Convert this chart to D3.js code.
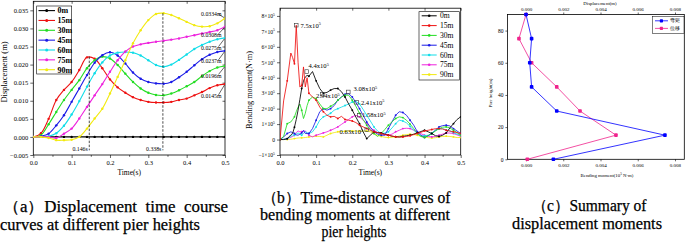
<!DOCTYPE html>
<html><head><meta charset="utf-8">
<script src="https://cdn.jsdelivr.net/npm/d3@7"></script>
<style>
body{margin:0;background:#fff}
svg{display:block}
text{font-family:"Liberation Serif","Times New Roman",serif;fill:#000}
</style>
</head><body>
<svg id="chart" width="685" height="245"></svg>
<script>
// ---------------- DATA ----------------
const seriesNames = ["0m","15m","30m","45m","60m","75m","90m"];

// (a) displacement time course (m)
const timeA = [0,0.02,0.04,0.06,0.08,0.10,0.12,0.14,0.16,0.18,0.20,0.22,0.24,0.26,0.28,0.30,0.32,0.34,0.36,0.38,0.40,0.42,0.44,0.46,0.48,0.50];
const disp0m  = [0,0,0,0,0,0,0,0,0,0,0,0,0,0,0,0,0,0,0,0,0,0,0,0,0,0];
const disp15m = [0,0.0010,0.0050,0.0102,0.0130,0.0152,0.0185,0.0220,0.0216,0.0190,0.0159,0.0137,0.0122,0.0110,0.0102,0.0097,0.0095,0.0095,0.0097,0.0102,0.0106,0.0115,0.0124,0.0135,0.0143,0.0146];
const disp30m = [0,0.0005,0.0035,0.0069,0.0102,0.0130,0.0157,0.0190,0.0212,0.0222,0.0217,0.0199,0.0175,0.0152,0.0134,0.0122,0.0116,0.0115,0.0120,0.0129,0.0140,0.0152,0.0168,0.0182,0.0192,0.0196];
const disp45m = [0,0.0002,0.0009,0.0032,0.0060,0.0097,0.0134,0.0171,0.0205,0.0226,0.0234,0.0225,0.0203,0.0178,0.0161,0.0152,0.0148,0.0147,0.0152,0.0165,0.0180,0.0198,0.0215,0.0227,0.0235,0.0238];
const disp60m = [0,0,0.0002,0.0010,0.0031,0.0062,0.0099,0.0139,0.0176,0.0206,0.0225,0.0233,0.0235,0.0233,0.0225,0.0212,0.0199,0.0194,0.0200,0.0213,0.0228,0.0243,0.0254,0.0263,0.0270,0.0274];
const disp75m = [0,0,0,-0.0003,0.0009,0.0023,0.0051,0.0083,0.0115,0.0146,0.0180,0.0212,0.0236,0.0250,0.0256,0.0260,0.0263,0.0266,0.0269,0.0272,0.0277,0.0281,0.0286,0.0290,0.0295,0.0305];
const disp90m = [0,0,-0.0003,-0.0009,-0.0009,-0.0008,0,0.0023,0.0051,0.0078,0.0120,0.0166,0.0212,0.0259,0.0295,0.0323,0.0340,0.0342,0.0337,0.0328,0.0318,0.0309,0.0305,0.0306,0.0314,0.0328];
const dispTicksY = [-0.005,0,0.005,0.010,0.015,0.020,0.025,0.030,0.035];
const timeTicks = [0,0.1,0.2,0.3,0.4,0.5];
const eventTimes = [0.146,0.338];
const eventPeaks = [0.0222,0.0342];
const eventLabels = ["0.146s","0.338s"];
const endLabels = ["0.0334m","0.0308m","0.0275m","0.0237m","0.0196m","0.0145m"];
const endValues = [0.0328,0.0305,0.0274,0.0238,0.0196,0.0146];

// (b) bending moment time course (x10^5 N·m)
const timeB = [0,0.01,0.02,0.03,0.035,0.04,0.045,0.05,0.055,0.06,0.065,0.07,0.075,0.08,0.09,0.10,0.11,0.12,0.13,0.14,0.15,0.16,0.17,0.18,0.19,0.20,0.21,0.22,0.23,0.24,0.25,0.26,0.27,0.28,0.29,0.30,0.31,0.32,0.33,0.34,0.35,0.36,0.37,0.38,0.39,0.40,0.41,0.42,0.43,0.44,0.45,0.46,0.47,0.48,0.49,0.50];
const mom0m  = [0,0,0.05,0.3,0.4,0.8,1.3,1.9,2.6,3.3,3.8,4.05,4.15,4.1,4.4,3.8,3.3,3.0,3.05,3.2,3.3,3.3,3.1,2.75,2.3,1.9,1.45,1.03,0.5,0.06,0.28,0.5,0.45,0.43,0.35,0.28,0.22,0.18,0.17,0.2,0.25,0.28,0.35,0.43,0.52,0.6,0.5,0.39,0.25,0.2,0.28,0.43,0.75,1.03,1.3,1.47];
const mom15m = [0,2.5,3.8,5.6,5.3,4.9,7.4,5.0,3.4,3.5,4.7,3.4,4.0,3.0,2.75,2.55,2.1,1.8,1.57,1.47,1.5,1.36,1.5,1.3,1.25,1.2,1.1,0.93,0.82,0.71,0.6,0.5,0.45,0.39,0.33,0.28,0.22,0.18,0.15,0.17,0.2,0.25,0.32,0.39,0.47,0.56,0.6,0.65,0.7,0.71,0.68,0.6,0.55,0.5,0.45,0.39];
const mom30m = [0,0.2,1.03,1.14,1.3,1.47,1.8,2.1,2.3,1.9,1.36,1.7,2.2,2.55,2.75,2.65,2.3,2.0,2.0,2.15,2.3,2.55,2.75,2.87,2.87,2.55,2.15,1.7,1.3,0.93,0.65,0.39,0.2,0.39,0.65,0.93,1.15,1.36,1.47,1.42,1.25,1.0,0.71,0.4,0.2,0.13,0.25,0.39,0.55,0.71,0.8,0.82,0.75,0.6,0.45,0.28];
const mom45m = [0,0.17,0.39,0.5,0.45,0.39,0.3,0.28,0.35,0.43,0.6,0.39,0.39,0.39,0.71,1.25,1.8,2.0,1.9,2.0,2.2,2.55,2.75,2.93,2.97,2.75,2.4,2.0,1.57,1.14,0.8,0.5,0.35,0.28,0.28,0.71,1.15,1.57,1.8,1.75,1.57,1.25,0.93,0.5,0.28,0.13,0.25,0.39,0.6,0.82,0.9,0.93,0.88,0.71,0.55,0.39];
const mom60m = [0,0.02,0.06,0.2,0.3,0.28,0.35,0.43,0.35,0.28,0.4,0.5,0.45,0.39,0.5,0.82,1.25,1.47,1.57,1.7,1.9,2.0,2.1,2.2,2.3,2.43,2.47,2.3,1.95,1.57,1.2,0.82,0.55,0.39,0.42,0.5,0.75,1.03,1.25,1.2,1.08,0.85,0.6,0.39,0.22,0.25,0.28,0.4,0.6,0.68,0.71,0.62,0.56,0.45,0.35,0.28];
const mom75m = [0,0.01,0.06,0.15,0.2,0.28,0.45,0.56,0.5,0.5,0.52,0.56,0.4,0.28,0.17,0.28,0.35,0.43,0.5,0.6,0.7,0.82,0.98,1.14,1.3,1.47,1.57,1.47,1.25,1.03,0.75,0.6,0.45,0.35,0.3,0.28,0.35,0.5,0.6,0.71,0.73,0.71,0.6,0.5,0.38,0.28,0.2,0.17,0.2,0.28,0.35,0.43,0.42,0.39,0.3,0.22];
const mom90m = [0,0,0,0.02,0.04,0.06,0.08,0.1,0.11,0.11,0.12,0.13,0.15,0.17,0.2,0.22,0.2,0.17,0.28,0.39,0.45,0.5,0.52,0.54,0.55,0.56,0.55,0.54,0.55,0.56,0.5,0.39,0.28,0.2,0.15,0.13,0.15,0.17,0.22,0.28,0.32,0.35,0.32,0.28,0.2,0.17,0.12,0.1,0.12,0.17,0.2,0.22,0.2,0.17,0.13,0.13];
const momTicksY = [-1,0,1,2,3,4,5,6,7,8];
const peakTimes  = [0.045,0.074,0.117,0.189,0.212,0.219,0.24];
const peakValues = [7.4,4.4,2.94,3.08,2.41,1.58,0.63];
const peakLabels = ["7.5","4.4","2.94","3.08","2.41","1.58","0.63"];

// (c) summary
const pierHeights = [0,15,30,45,60,75,90];
const momentSummary = [0.00147,0.00746,0.00165,0.0003,0.0002,0.0003,0.0];
const dispSummary   = [0.00007,0.00483,0.0029,0.00165,0.0003,-0.00038,0.0];
const summaryNames = ["弯矩","位移"];
const summaryTicksX = [0,0.002,0.004,0.006,0.008];
const summaryTicksY = [0,20,40,60,80];

// ---------------- STYLE / LAYOUT ----------------
const colors = ["#000000","#ee1111","#22dd22","#1a1ae6","#11dde8","#ee22dd","#f2ea10"];
const summaryColors = ["#0000ff","#f0238c"];
const endLabelDy = [-4.6,8.8,10.3,10.5,9.9,12.2];
const peakLabelOffsets = [[2.5,0],[0,-5.5],[-8,2],[3.5,-3],[2.5,0],[1,0],[-29,2]];
const captions = [
  {lines:["（a）Displacement  time  course","curves at different pier heights"], x:[3,0], y:[211.7,230], w:[225,200], anchor:"start"},
  {lines:["（b）Time-distance curves of","bending moments at different","pier heights"], x:[356,355,354], y:[202.5,219.5,236.5], w:[189,190,65], anchor:"middle"},
  {lines:["（c）Summary of","displacement moments"], x:[589,587], y:[210.7,229], w:[115,150], anchor:"middle"}
];

const svg = d3.select("#chart");
svg.append("rect").attr("width",685).attr("height",245).attr("fill","#fff");

function styleAxis(g, fs){
  g.select(".domain").remove();
  g.selectAll(".tick line").attr("stroke","#000").attr("stroke-width",0.6);
  g.selectAll(".tick text").attr("font-size",fs).attr("fill","#000").attr("font-family","Liberation Serif");
}
function frame(g,x,y){
  g.append("rect").attr("x",x.range()[0]).attr("y",y.range()[1])
    .attr("width",x.range()[1]-x.range()[0]).attr("height",y.range()[0]-y.range()[1])
    .attr("fill","none").attr("stroke","#000").attr("stroke-width",0.8);
}

// ================= PANEL A =================
(function(){
  const x = d3.scaleLinear().domain([0,0.5]).range([33.3,225]);
  const y = d3.scaleLinear().domain([-0.005,0.0375]).range([155,1.3]);
  const g = svg.append("g");
  svg.append("clipPath").attr("id","clipA").append("rect")
    .attr("x",x.range()[0]).attr("y",y.range()[1]).attr("width",x.range()[1]-x.range()[0]).attr("height",y.range()[0]-y.range()[1]);

  const ax = g.append("g").attr("transform",`translate(0,${y.range()[0]})`)
    .call(d3.axisBottom(x).tickValues(timeTicks).tickFormat(d3.format(".1f")).tickSize(3).tickPadding(2));
  styleAxis(ax,6.5);
  const axm = g.append("g").attr("transform",`translate(0,${y.range()[0]})`)
    .call(d3.axisBottom(x).tickValues([0.05,0.15,0.25,0.35,0.45]).tickFormat("").tickSize(1.8));
  styleAxis(axm,6);
  const axt = g.append("g").attr("transform",`translate(0,${y.range()[1]})`)
    .call(d3.axisBottom(x).tickValues(timeTicks).tickFormat("").tickSize(2.5));
  styleAxis(axt,6);
  const ay = g.append("g").attr("transform",`translate(${x.range()[0]},0)`)
    .call(d3.axisLeft(y).tickValues(dispTicksY).tickFormat(d3.format(".3f")).tickSize(3).tickPadding(2));
  styleAxis(ay,6.5);
  const ayr = g.append("g").attr("transform",`translate(${x.range()[1]},0)`)
    .call(d3.axisLeft(y).tickValues(dispTicksY).tickFormat("").tickSize(2.5));
  styleAxis(ayr,6);
  frame(g,x,y);

  g.append("text").attr("x",(x.range()[0]+x.range()[1])/2).attr("y",174.5).attr("text-anchor","middle").attr("font-size",7.5).text("Time(s)");
  g.append("text").attr("transform","translate(7,72) rotate(-90)").attr("text-anchor","middle").attr("font-size",8.5).text("Displacement (m)");

  const data = [disp0m,disp15m,disp30m,disp45m,disp60m,disp75m,disp90m];
  const line = d3.line().x((d,i)=>x(timeA[i])).y(d=>y(d)).curve(d3.curveCatmullRom.alpha(0.5));
  const pg = g.append("g").attr("clip-path","url(#clipA)");
  data.forEach((s,k)=>{
    pg.append("path").attr("d",line(s)).attr("fill","none").attr("stroke",colors[k]).attr("stroke-width",1.1);
    pg.selectAll(null).data(s).enter().append("circle")
      .attr("cx",(d,i)=>x(timeA[i])).attr("cy",d=>y(d)).attr("r",1.2).attr("fill",colors[k]);
  });

  // dashed event lines
  eventTimes.forEach((t,i)=>{
    g.append("line").attr("x1",x(t)).attr("x2",x(t)).attr("y1",y(eventPeaks[i])).attr("y2",y(-0.0037))
      .attr("stroke","#000").attr("stroke-width",0.7).attr("stroke-dasharray","2.5,1.5");
    g.append("text").attr("x",x(t)-1.5).attr("y",y(-0.0032)).attr("dy","0.35em").attr("text-anchor","end").attr("font-size",5.8).text(eventLabels[i]);
  });

  // end labels with arrows
  endLabels.forEach((lab,i)=>{
    const ey = y(endValues[i]);
    const ly = ey + endLabelDy[i];
    g.append("text").attr("x",x.range()[1]-3.5).attr("y",ly).attr("dy","0.35em").attr("text-anchor","end").attr("font-size",5.8).text(lab);
    const x0 = x.range()[1]-3.5, y0 = ly + (endLabelDy[i]<0?0.5:-1.5);
    g.append("line").attr("x1",x0-3).attr("y1",y0).attr("x2",x.range()[1]-0.6).attr("y2",ey+(endLabelDy[i]<0?-0.5:1))
      .attr("stroke","#000").attr("stroke-width",0.6);
  });

  // legend
  const lg = g.append("g");
  lg.append("rect").attr("x",36.7).attr("y",6).attr("width",35).attr("height",68).attr("fill","#fff").attr("stroke","#000").attr("stroke-width",0.6);
  seriesNames.forEach((n,i)=>{
    const yy = 10.6 + i*9.85;
    lg.append("line").attr("x1",38.5).attr("x2",55).attr("y1",yy).attr("y2",yy).attr("stroke",colors[i]).attr("stroke-width",1.1);
    lg.append("circle").attr("cx",46.7).attr("cy",yy).attr("r",1.5).attr("fill",colors[i]);
    lg.append("text").attr("x",57.5).attr("y",yy).attr("dy","0.35em").attr("font-size",8).attr("font-weight","bold").text(n);
  });
})();

// ================= PANEL B =================
(function(){
  const x = d3.scaleLinear().domain([0,0.5]).range([280,460.7]);
  const y = d3.scaleLinear().domain([-1,8.5]).range([155,8.2]);
  const g = svg.append("g");
  svg.append("clipPath").attr("id","clipB").append("rect")
    .attr("x",x.range()[0]).attr("y",y.range()[1]).attr("width",x.range()[1]-x.range()[0]).attr("height",y.range()[0]-y.range()[1]);

  const ax = g.append("g").attr("transform",`translate(0,${y.range()[0]})`)
    .call(d3.axisBottom(x).tickValues(timeTicks).tickFormat(d3.format(".1f")).tickSize(3).tickPadding(2));
  styleAxis(ax,6.5);
  const axm = g.append("g").attr("transform",`translate(0,${y.range()[0]})`)
    .call(d3.axisBottom(x).tickValues([0.05,0.15,0.25,0.35,0.45]).tickFormat("").tickSize(1.8));
  styleAxis(axm,6);
  const axt = g.append("g").attr("transform",`translate(0,${y.range()[1]})`)
    .call(d3.axisBottom(x).tickValues(timeTicks).tickFormat("").tickSize(2.5));
  styleAxis(axt,6);
  const ay = g.append("g").attr("transform",`translate(${x.range()[0]},0)`)
    .call(d3.axisLeft(y).tickValues(momTicksY).tickSize(3).tickPadding(2));
  styleAxis(ay,5.6);
  ay.selectAll(".tick text").each(function(d){
    const t = d3.select(this); t.text(null);
    if(d===0){ t.text("0"); return; }
    t.append("tspan").text((d<0?"−":"")+Math.abs(d)+"×10");
    t.append("tspan").attr("dy",-2.2).attr("font-size",3.8).text("5");
  });
  frame(g,x,y);

  g.append("text").attr("x",(x.range()[0]+x.range()[1])/2).attr("y",174.5).attr("text-anchor","middle").attr("font-size",7.5).text("Time(s)");
  g.append("text").attr("transform","translate(252,90) rotate(-90)").attr("text-anchor","middle").attr("font-size",8.3).text("Bending moment(N·m)");

  const data = [mom0m,mom15m,mom30m,mom45m,mom60m,mom75m,mom90m];
  const line = d3.line().x((d,i)=>x(timeB[i])).y(d=>y(d));
  const pg = g.append("g").attr("clip-path","url(#clipB)");
  const drawOrder = [6,5,4,3,2,0,1];
  drawOrder.forEach(k=>{
    const s = data[k];
    pg.append("path").attr("d",line(s)).attr("fill","none").attr("stroke",colors[k]).attr("stroke-width",0.85);
    pg.selectAll(null).data(s.map((v,i)=>[timeB[i],v]).filter(d=>Math.abs(Math.round(d[0]*100)-d[0]*100)<1e-6 && Math.round(d[0]*100)%2===0))
      .enter().append("circle").attr("cx",d=>x(d[0])).attr("cy",d=>y(d[1])).attr("r",0.95).attr("fill",colors[k]);
  });

  // peak annotations
  peakTimes.forEach((t,i)=>{
    const px = x(t), py = y(peakValues[i]);
    g.append("rect").attr("x",px-1.8).attr("y",py-1.8).attr("width",3.6).attr("height",3.6)
      .attr("fill","none").attr("stroke","#333").attr("stroke-width",0.6);
    const tx = g.append("text").attr("x",px+1.8+peakLabelOffsets[i][0]).attr("y",py+peakLabelOffsets[i][1]).attr("dy","0.35em").attr("font-size",6.6);
    tx.append("tspan").text(peakLabels[i]+"x10");
    tx.append("tspan").attr("dy",-2.5).attr("font-size",4.3).text("5");
  });

  // legend
  const lg = g.append("g");
  lg.append("rect").attr("x",419).attr("y",11.7).attr("width",40.3).attr("height",68.3).attr("fill","#fff").attr("stroke","#000").attr("stroke-width",0.6);
  seriesNames.forEach((n,i)=>{
    const yy = 15.8 + i*9.8;
    lg.append("line").attr("x1",421.7).attr("x2",436.7).attr("y1",yy).attr("y2",yy).attr("stroke",colors[i]).attr("stroke-width",1);
    lg.append("circle").attr("cx",429.2).attr("cy",yy).attr("r",1.3).attr("fill",colors[i]);
    lg.append("text").attr("x",440).attr("y",yy).attr("dy","0.35em").attr("font-size",7.6).text(n);
  });
})();

// ================= PANEL C =================
(function(){
  const x = d3.scaleLinear().domain([-0.001,0.0085]).range([507.4,684.3]);
  const y = d3.scaleLinear().domain([0,90]).range([159.3,14.5]);
  const g = svg.append("g");

  const ax = g.append("g").attr("transform",`translate(0,${y.range()[0]})`)
    .call(d3.axisBottom(x).tickValues(summaryTicksX).tickFormat(d3.format(".3f")).tickSize(2).tickPadding(2));
  styleAxis(ax,5);
  const axt = g.append("g").attr("transform",`translate(0,${y.range()[1]})`)
    .call(d3.axisTop(x).tickValues(summaryTicksX).tickFormat(d3.format(".3f")).tickSize(2).tickPadding(2));
  styleAxis(axt,5);
  const ay = g.append("g").attr("transform",`translate(${x.range()[0]},0)`)
    .call(d3.axisLeft(y).tickValues(summaryTicksY).tickSize(2).tickPadding(2));
  styleAxis(ay,5.5);
  frame(g,x,y);

  g.append("text").attr("x",600).attr("y",4.5).attr("text-anchor","middle").attr("font-size",4.8).text("Displacement(m)");
  const bt = g.append("text").attr("x",607).attr("y",177).attr("text-anchor","middle").attr("font-size",4.8);
  bt.append("tspan").text("Bending moment(10");
  bt.append("tspan").attr("dy",-1.6).attr("font-size",3.4).text("5");
  bt.append("tspan").attr("dy",1.6).text(" N·m)");
  g.append("text").attr("transform","translate(491.5,93) rotate(-90)").attr("text-anchor","middle").attr("font-size",5).text("Pier height(m)");

  const sets = [momentSummary, dispSummary];
  const line = d3.line().x(d=>x(d[0])).y(d=>y(d[1]));
  [1,0].forEach(k=>{
    const pts = sets[k].map((v,i)=>[v,pierHeights[i]]);
    g.append("path").attr("d",line(pts)).attr("fill","none").attr("stroke",summaryColors[k]).attr("stroke-width",0.8);
    g.selectAll(null).data(pts).enter().append("rect")
      .attr("x",d=>x(d[0])-1.8).attr("y",d=>y(d[1])-1.8).attr("width",3.6).attr("height",3.6).attr("rx",0.8)
      .attr("fill",summaryColors[k]);
  });

  const lg = g.append("g");
  lg.append("rect").attr("x",652.7).attr("y",16.7).attr("width",31.3).attr("height",16.6).attr("fill","#fff").attr("stroke","#000").attr("stroke-width",0.5);
  summaryNames.forEach((n,i)=>{
    const yy = 20.8 + i*7.6;
    lg.append("line").attr("x1",655).attr("x2",668).attr("y1",yy).attr("y2",yy).attr("stroke",summaryColors[i]).attr("stroke-width",0.8);
    lg.append("rect").attr("x",659.8).attr("y",yy-1.6).attr("width",3.2).attr("height",3.2).attr("rx",0.7).attr("fill",summaryColors[i]);
    lg.append("text").attr("x",670).attr("y",yy).attr("dy","0.35em").attr("font-size",4.8).attr("font-family","Noto Sans CJK SC").text(n);
  });
})();

// ================= CAPTIONS =================
captions.forEach(c=>{
  c.lines.forEach((l,i)=>{
    svg.append("text").attr("x",c.x[i]).attr("y",c.y[i]).attr("text-anchor",c.anchor)
      .attr("font-size",16).attr("textLength",c.w[i]).attr("lengthAdjust","spacingAndGlyphs")
      .attr("stroke","#000").attr("stroke-width",0.25)
      .attr("xml:space","preserve").style("white-space","pre").text(l);
  });
});
</script>
</body></html>
